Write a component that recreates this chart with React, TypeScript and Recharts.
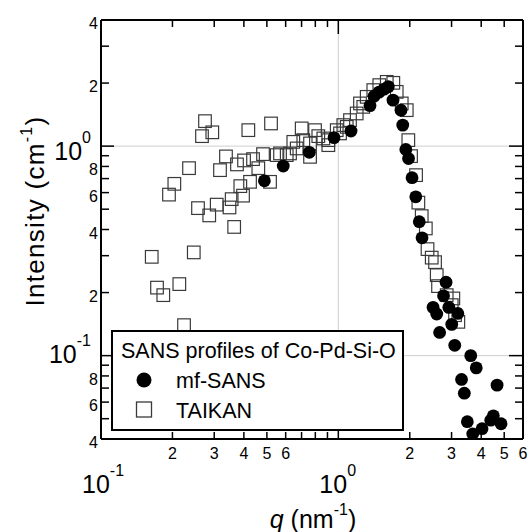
import { ScatterChart, Scatter, XAxis, YAxis, ReferenceLine } from 'recharts';

// mf-SANS (filled circles)
const mfQ = [
  0.488, 0.586, 0.755, 0.959, 1.131, 1.36, 1.414, 1.484, 1.558, 1.624, 1.7, 1.837, 1.868,
  1.925, 1.976, 2.045, 2.12, 2.193, 2.253, 2.844, 2.776, 2.507, 2.598, 2.922, 3.188, 3.005,
  2.672, 3.094, 3.614, 3.812, 3.305, 3.396, 4.665, 3.496, 3.685, 4.033, 4.5, 4.85, 4.388,
];
const mfI = [
  0.683, 0.803, 0.934, 1.098, 1.181, 1.561, 1.732, 1.81, 1.871, 1.923, 1.658, 1.485, 1.26,
  0.964, 0.872, 0.707, 0.573, 0.436, 0.365, 0.224, 0.193, 0.17, 0.158, 0.17, 0.159, 0.141,
  0.129, 0.112, 0.1, 0.0874, 0.077, 0.0662, 0.0723, 0.0484, 0.0423, 0.0448, 0.0516, 0.0473,
  0.0492,
];

// TAIKAN (open squares)
const taikanQ = [
  0.1636, 0.1722, 0.183, 0.1934, 0.2037, 0.2138, 0.2238, 0.2349, 0.246, 0.2563, 0.2664,
  0.2743, 0.2858, 0.2944, 0.3073, 0.3173, 0.3362, 0.3478, 0.3553, 0.364, 0.3741, 0.3864,
  0.3967, 0.4006, 0.4176, 0.4246, 0.4371, 0.4601, 0.4816, 0.5205, 0.5155, 0.55, 0.568,
  0.6061, 0.6258, 0.6461, 0.6677, 0.7008, 0.7118, 0.76, 0.76, 0.7977, 0.8234, 0.8645,
  0.9076, 0.9076, 0.9846, 1.0166, 1.0497, 1.085, 1.12, 1.195, 1.234, 1.274, 1.317, 1.404,
  1.488, 1.6, 1.705, 1.762, 1.85, 1.942, 1.972, 2.025, 2.126, 2.174, 2.246, 2.337, 2.376,
  2.475, 2.556, 2.598, 2.631, 2.862, 3.052, 3.005, 3.103, 3.204,
];
const taikanI = [
  0.2962, 0.2112, 0.1944, 0.5869, 0.6607, 0.2195, 0.1398, 0.785, 0.311, 0.5059, 1.116,
  1.316, 0.467, 1.164, 0.5257, 0.768, 0.893, 0.5097, 0.5585, 0.4114, 0.818, 0.6443,
  0.5803, 0.8546, 1.192, 0.6755, 0.867, 0.785, 0.9158, 1.283, 0.6755, 0.906, 0.923,
  0.906, 0.923, 1.048, 0.975, 1.215, 1.068, 1.03, 0.889, 1.192, 1.116, 1.088,
  1.011, 1.068, 1.192, 1.15, 1.26, 1.236, 1.331, 1.432, 1.599, 1.54, 1.719, 1.851,
  1.955, 2.027, 2.005, 1.816, 1.599, 1.485, 1.068, 0.896, 0.727, 0.5375, 0.4633, 0.4047, 0.3224,
  0.2936, 0.2794, 0.2422, 0.2147, 0.1944, 0.1875, 0.1742, 0.156, 0.145,
];

const xTicks = [0.1, 0.2, 0.3, 0.4, 0.5, 0.6, 0.7, 0.8, 0.9, 1, 2, 3, 4, 5, 6];
const yTicks = [
  0.04, 0.05, 0.06, 0.07, 0.08, 0.09, 0.1, 0.2, 0.3, 0.4, 0.5, 0.6, 0.7, 0.8, 0.9, 1, 2, 3, 4,
];
const xDigitLabels: Record<string, string> = {
  '0.2': '2', '0.3': '3', '0.4': '4', '0.5': '5', '0.6': '6',
  '2': '2', '3': '3', '4': '4', '5': '5', '6': '6',
};
const yDigitLabels: Record<string, string> = {
  '0.04': '4', '0.06': '6', '0.08': '8', '0.2': '2', '0.4': '4', '0.6': '6', '0.8': '8',
  '2': '2', '4': '4',
};
const decadeExp: Record<string, string> = { '0.1': '-1', '1': '0' };

const mfData = mfQ.map((q, i) => ({ q, I: mfI[i] }));
const taikanData = taikanQ.map((q, i) => ({ q, I: taikanI[i] }));

const FONT = '"Liberation Sans", Arial, Helvetica, sans-serif';
const W = 531;
const H = 532;
const PLOT = { left: 101, top: 20, right: 523, bottom: 439 };

const isDecade = (v: number) => Math.abs(Math.log10(v) - Math.round(Math.log10(v))) < 1e-6;

function BottomTick(props: any) {
  const { x, payload } = props;
  const v = payload.value;
  const major = isDecade(v);
  const y0 = PLOT.bottom;
  const digit = xDigitLabels[String(v)];
  const exp = decadeExp[String(v)];
  return (
    <g>
      <line x1={x} x2={x} y1={y0} y2={y0 - (major ? 13 : 7)} stroke="#000" strokeWidth={1.5} />
      {digit && (
        <text x={x} y={459} textAnchor="middle" fontSize={16} fontFamily={FONT} fill="#000">
          {digit}
        </text>
      )}
      {exp && (
        <text x={x - 19} y={493} fontFamily={FONT} fill="#000">
          <tspan fontSize={25}>10</tspan>
          <tspan fontSize={16} dy={-17}>{exp}</tspan>
        </text>
      )}
    </g>
  );
}

function TopTick(props: any) {
  const { x, payload } = props;
  const major = isDecade(payload.value);
  return (
    <line x1={x} x2={x} y1={PLOT.top} y2={PLOT.top + (major ? 14 : 7)} stroke="#000" strokeWidth={1.5} />
  );
}

function LeftTick(props: any) {
  const { y, payload } = props;
  const v = payload.value;
  const major = isDecade(v);
  const digit = yDigitLabels[String(v)];
  const exp = decadeExp[String(v)];
  return (
    <g>
      <line x1={PLOT.left} x2={PLOT.left + (major ? 13 : 8)} y1={y} y2={y} stroke="#000" strokeWidth={1.5} />
      {digit && (
        <text x={98} y={y + 9} textAnchor="end" fontSize={16} fontFamily={FONT} fill="#000">
          {digit}
        </text>
      )}
      {exp && (
        <text x={91} y={y + (v === 1 ? 14 : 7)} textAnchor="end" fontFamily={FONT} fill="#000">
          <tspan fontSize={25}>10</tspan>
          <tspan fontSize={16} dy={-17}>{exp}</tspan>
        </text>
      )}
    </g>
  );
}

function RightTick(props: any) {
  const { y, payload } = props;
  const major = isDecade(payload.value);
  return (
    <line x1={PLOT.right} x2={PLOT.right - (major ? 14 : 8)} y1={y} y2={y} stroke="#000" strokeWidth={1.5} />
  );
}

const Circle = (props: any) => <circle cx={props.cx} cy={props.cy} r={6.4} fill="#000" />;
const Square = (props: any) => (
  <rect x={props.cx - 6.3} y={props.cy - 6.3} width={12.6} height={12.6} fill="none" stroke="#3a3a3a" strokeWidth={1.2} />
);

export default function App() {
  const axisLine = { stroke: '#000', strokeWidth: 2 };
  return (
    <div style={{ position: 'absolute', left: 0, top: 0, width: W, height: H, background: '#fff' }}>
      <ScatterChart
        width={W}
        height={H}
        margin={{ top: PLOT.top - 1, right: W - PLOT.right - 1, bottom: H - PLOT.bottom - 1, left: PLOT.left - 1 }}
      >
        <XAxis xAxisId="b" dataKey="q" type="number" scale="log" domain={[0.1, 6]} allowDataOverflow
          ticks={xTicks} interval={0} height={1} axisLine={axisLine} tickLine={false} tick={BottomTick} />
        <XAxis xAxisId="t" orientation="top" dataKey="q" type="number" scale="log" domain={[0.1, 6]} allowDataOverflow
          ticks={xTicks} interval={0} height={1} axisLine={axisLine} tickLine={false} tick={TopTick} />
        <YAxis yAxisId="l" dataKey="I" type="number" scale="log" domain={[0.04, 4]} allowDataOverflow
          ticks={yTicks} interval={0} width={1} axisLine={axisLine} tickLine={false} tick={LeftTick} />
        <YAxis yAxisId="r" orientation="right" dataKey="I" type="number" scale="log" domain={[0.04, 4]} allowDataOverflow
          ticks={yTicks} interval={0} width={1} axisLine={axisLine} tickLine={false} tick={RightTick} />
        <ReferenceLine xAxisId="b" yAxisId="l" x={1} stroke="#cfcfcf" strokeWidth={1} />
        <ReferenceLine xAxisId="b" yAxisId="l" y={1} stroke="#cfcfcf" strokeWidth={1} />
        <ReferenceLine xAxisId="b" yAxisId="l" y={0.1} stroke="#cfcfcf" strokeWidth={1} />
        <Scatter name="TAIKAN" xAxisId="b" yAxisId="l" data={taikanData} shape={Square} isAnimationActive={false} />
        <Scatter name="mf-SANS" xAxisId="b" yAxisId="l" data={mfData} shape={Circle} isAnimationActive={false} />
        <Scatter name="frame" xAxisId="t" yAxisId="r" data={[]} isAnimationActive={false} />
      </ScatterChart>
      <svg width={W} height={H} style={{ position: 'absolute', left: 0, top: 0, pointerEvents: 'none' }}>
        {/* y title */}
        <text transform="translate(44, 211) rotate(-90)" textAnchor="middle" fontFamily={FONT} fontSize={26}
          letterSpacing={1.3} fill="#000">
          Intensity (cm<tspan fontSize={16} dy={-12}>-1</tspan><tspan dy={12}>)</tspan>
        </text>
        {/* x title */}
        <text x={313} y={528} textAnchor="middle" fontFamily={FONT} fontSize={25} fill="#000">
          <tspan fontStyle="italic">q</tspan> (nm<tspan fontSize={16} dy={-13}>-1</tspan><tspan dy={13}>)</tspan>
        </text>
        {/* legend */}
        <rect x={112} y={331} width={291} height={99} fill="#fff" stroke="#000" strokeWidth={2} />
        <text x={121} y={358} fontFamily={FONT} fontSize={21.5} fill="#000">SANS profiles of Co-Pd-Si-O</text>
        <circle cx={144} cy={380} r={7.5} fill="#000" />
        <text x={176} y={388} fontFamily={FONT} fontSize={21.5} fill="#000">mf-SANS</text>
        <rect x={136.5} y={402} width={15} height={15} fill="none" stroke="#3a3a3a" strokeWidth={1.3} />
        <text x={176} y={418} fontFamily={FONT} fontSize={21.5} fill="#000">TAIKAN</text>
      </svg>
    </div>
  );
}
